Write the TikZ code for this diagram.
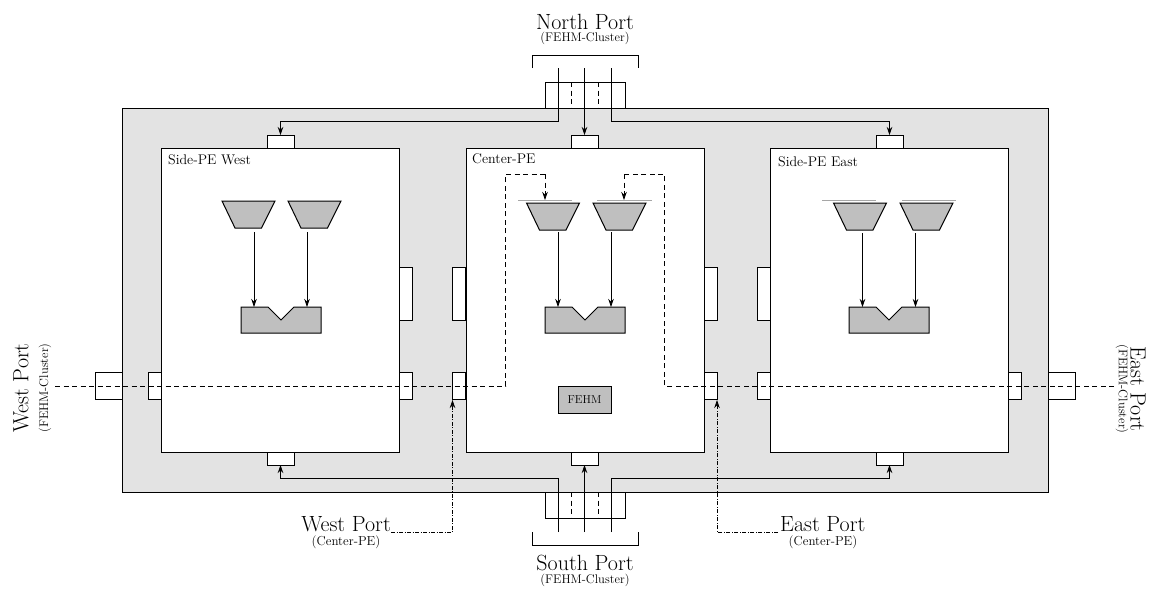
\documentclass[tikz,border=0pt]{standalone}
\usetikzlibrary{arrows.meta}
\newcommand{\bigt}{\fontsize{22}{23}\selectfont}
\newcommand{\subt}{\fontsize{12.5}{13}\selectfont}
\newcommand{\pet}{\fontsize{14}{15}\selectfont}
\definecolor{shellgray}{gray}{0.89}
\definecolor{unitgray}{gray}{0.75}
\tikzset{
  tip/.style={-{Stealth[length=8pt,width=5.5pt]}},
  wire/.style={line width=0.8pt},
  arrowwire/.style={wire,tip},
  dashwire/.style={line width=0.8pt,dash pattern=on 5pt off 3.5pt},
  dotwire/.style={line width=0.7pt,dash pattern=on 4pt off 1.5pt on 1pt off 1.5pt},
  shell/.style={draw,line width=1pt,fill=shellgray,minimum width=926pt,minimum height=384pt,inner sep=0,outer sep=0},
  pebox/.style={draw,line width=1pt,fill=white,minimum width=238pt,minimum height=304pt,inner sep=0,outer sep=0},
  hport/.style={draw,line width=1pt,fill=white,minimum width=27pt,minimum height=13pt,inner sep=0,outer sep=0},
  vport/.style={draw,line width=1pt,fill=white,minimum width=13pt,minimum height=26.5pt,inner sep=0,outer sep=0},
  tallport/.style={draw,line width=1pt,fill=white,minimum width=13pt,minimum height=53pt,inner sep=0,outer sep=0},
  extport/.style={draw,line width=1pt,fill=white,minimum width=27pt,minimum height=26.5pt,inner sep=0,outer sep=0},
  nsport/.style={draw,line width=1pt,fill=white,minimum width=80pt,minimum height=26pt,inner sep=0,outer sep=0},
  unit/.style={draw,line width=1pt,fill=unitgray,line join=miter},
  rail/.style={draw=gray!70,line width=0.7pt},
  bigl/.style={inner sep=0,font=\bigt},
  subl/.style={inner sep=0,font=\subt},
  subm/.style={inner sep=0,font=\fontsize{13}{14}\selectfont},
  pel/.style={inner sep=0,anchor=base west,font=\pet},
}
\newcommand{\mux}[2]{% top-left x, top y
  \path[unit] (#1,#2) -- ++(53,0) -- ++(-13.5,27) -- ++(-26.5,0) -- cycle;}
\newcommand{\alu}[1]{% left x
  \path[unit] (#1,307) -- ++(27,0) -- ++(13,13) -- ++(13,-13) -- ++(27,0) -- ++(0,26) -- ++(-80,0) -- cycle;}
\begin{document}
\begin{tikzpicture}[x=1pt,y=-1pt]
\useasboundingbox (0,0) rectangle (1152,590);
% north/south external ports (behind shell edge)
\node[nsport] (np) at (585,95) {};
\node[nsport] (sp) at (585,505) {};
\draw[dashwire] (571.5,82) -- (571.5,108) (598,82) -- (598,108);
\draw[dashwire] (571.5,492) -- (571.5,518) (598,492) -- (598,518);
% shell
\node[shell] (shell) at (585,300) {};
\node[extport] (wext) at (108.5,386) {};
\node[extport] (eext) at (1061.5,386) {};
% PE boxes
\node[pebox] (pew) at (280,300) {};
\node[pebox] (pec) at (585,300) {};
\node[pebox] (pee) at (889,300) {};
% ports on top and bottom
\node[hport] (wt) at (280.5,141.5) {};
\node[hport] (ct) at (584.5,141.5) {};
\node[hport] (et) at (889.5,141.5) {};
\node[hport] (wb) at (280.5,458.5) {};
\node[hport] (cb) at (584.5,458.5) {};
\node[hport] (eb) at (889.5,458.5) {};
% side ports
\node[vport] (wl) at (154.5,386) {};
\node[vport] (wr) at (406,386) {};
\node[tallport] (wru) at (406,293.5) {};
\node[vport] (cl) at (459,386) {};
\node[tallport] (clu) at (459,293.5) {};
\node[vport] (cr) at (710.5,386) {};
\node[tallport] (cru) at (710.5,293.5) {};
\node[vport] (el) at (763.5,386) {};
\node[tallport] (elu) at (763.5,293.5) {};
\node[vport] (er) at (1015,386) {};
% labels
\node[pel] (lw) at (168,164) {Side-PE West};
\node[pel] (lc) at (472,163.5) {Center-PE};
\node[pel] (le) at (778,166.5) {Side-PE East};
% units
\mux{222}{201}\mux{288}{201}\alu{241}
\mux{526.5}{203}\mux{593}{203}\alu{545}
\mux{833.5}{203}\mux{900}{203}\alu{849}
\draw[rail] (518,200) -- (572,200) (597,200) -- (652,200);
\draw[rail] (822,200) -- (876,200) (902,200) -- (956,200);
% data arrows
\coordinate (wa1) at (254,232); \coordinate (wa1e) at (254,307);
\coordinate (wa2) at (307,232); \coordinate (wa2e) at (307,307);
\coordinate (ca1) at (558,232); \coordinate (ca1e) at (558,307);
\coordinate (ca2) at (611,232); \coordinate (ca2e) at (611,307);
\coordinate (ea1) at (862.5,233); \coordinate (ea1e) at (862.5,307);
\coordinate (ea2) at (915.5,233); \coordinate (ea2e) at (915.5,307);
\foreach \a in {wa1,wa2,ca1,ca2,ea1,ea2} \draw[arrowwire] (\a) -- (\a e);
% FEHM
\node[draw,line width=1pt,fill=unitgray,minimum width=53pt,minimum height=27pt,inner sep=0,font=\fontsize{11.5}{12}\selectfont] (fehm) at (584.5,399.5) {FEHM};
% brackets and north links
\coordinate (nbl) at (532,68); \coordinate (nbr) at (638,68);
\coordinate (sbl) at (532,532); \coordinate (sbr) at (638,532);
\draw[wire] (nbl) -- (532,55) -- (638,55) -- (nbr);
\draw[wire] (sbl) -- (532,545) -- (638,545) -- (sbr);
\coordinate (n1) at (558,68); \coordinate (n2) at (584.5,68); \coordinate (n3) at (611,68);
\coordinate (s1) at (558,532); \coordinate (s2) at (584.5,532); \coordinate (s3) at (611,532);
\draw[arrowwire] (n1) -- (558,121) -- (280.5,121) -- (wt.north);
\draw[arrowwire] (n2) -- (ct.north);
\draw[arrowwire] (n3) -- (611,121) -- (889.5,121) -- (et.north);
\draw[arrowwire] (s1) -- (558,478) -- (280.5,478) -- (wb.south);
\draw[arrowwire] (s2) -- (cb.south);
\draw[arrowwire] (s3) -- (611,478) -- (889.5,478) -- (eb.south);
% dashed cluster links
\coordinate (wfree) at (55,386); \coordinate (efree) at (1114,386);
\coordinate (mw) at (545,200); \coordinate (me) at (624,200);
\draw[dashwire] (wfree) -- (505.5,386) -- (505.5,174) -- (545,174);
\draw[dashwire] (efree) -- (664.5,386) -- (664.5,174) -- (624,174);
\draw[dashwire,tip] (545,174) -- (mw);
\draw[dashwire,tip] (624,174) -- (me);
% port labels
\node[bigl] (tn) at (585,21.5) {North Port};
\node[subl] (tns) at (585,38.5) {(FEHM-Cluster)};
\node[bigl] (ts) at (585,562.5) {South Port};
\node[subl] (tss) at (585,580.5) {(FEHM-Cluster)};
\node[bigl,anchor=east] (twp) at (391,524) {West Port};
\node[subm] (twps) at (346,542) {(Center-PE)};
\node[bigl,anchor=west] (tep) at (780,524) {East Port};
\node[subm] (teps) at (823,542) {(Center-PE)};
\node[bigl,rotate=90] (tww) at (21,388) {West Port};
\node[subl,rotate=90] (twws) at (45,388) {(FEHM-Cluster)};
\node[bigl,rotate=-90] (tee) at (1138,389) {East Port};
\node[subl,rotate=-90] (tees) at (1122,389) {(FEHM-Cluster)};
% center-PE port links
\coordinate (dw) at (452.5,400); \coordinate (de) at (717,400);
\coordinate (dws) at (391,532); \coordinate (des) at (778,532);
\draw[dotwire,tip] (dws) -- (452.5,532) -- (dw);
\draw[dotwire,tip] (des) -- (717,532) -- (de);
\end{tikzpicture}
\end{document}
